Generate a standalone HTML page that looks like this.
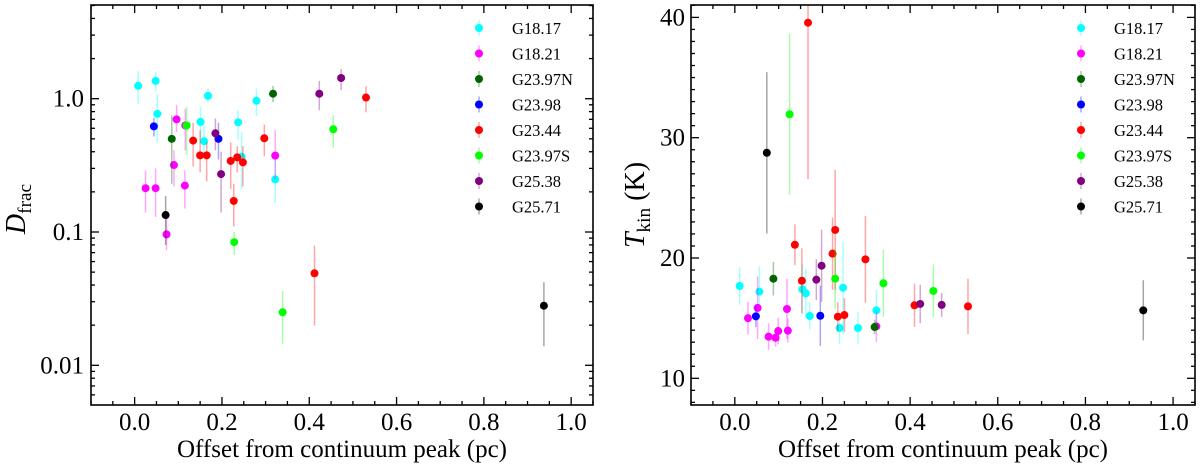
<!DOCTYPE html>
<html><head><meta charset="utf-8"><style>
html,body{margin:0;padding:0;background:#fff;}
svg{display:block;}
svg text{font-family:"Liberation Serif","DejaVu Serif","Times New Roman",serif;}
</style></head><body>
<svg id="chart" width="1200" height="469" viewBox="0 0 1200 469" xmlns="http://www.w3.org/2000/svg" font-family="Liberation Serif, DejaVu Serif, serif">
<g id="left"></g>
<g id="right"></g>
</svg>
<script>
const seriesNames = ["G18.17","G18.21","G23.97N","G23.98","G23.44","G23.97S","G25.38","G25.71"];
const seriesColors = ["#00ffff","#ff00ff","#006400","#0000ff","#ff0000","#00ff00","#800080","#000000"];
const xTicks = [0.0,0.2,0.4,0.6,0.8,1.0];
const xTickLabels = ["0.0","0.2","0.4","0.6","0.8","1.0"];
const dfTicks = [0.01,0.1,1];
const dfTickLabels = ["0.01","0.1","1.0"];
const tkTicks = [10,20,30,40];
const tkTickLabels = ["10","20","30","40"];

// Left panel: D_frac
const dfSeries = [0,0,0,0,0,0,0,0,0,0, 1,1,1,1,1,1,1,1, 2,2, 3,3, 4,4,4,4,4,4,4,4,4,4, 5,5,5,5, 6,6,6,6, 7,7];
const dfX = [0.008,0.048,0.052,0.168,0.151,0.159,0.279,0.237,0.245,0.322, 0.096,0.116,0.090,0.025,0.048,0.115,0.073,0.322, 0.085,0.317, 0.044,0.192, 0.134,0.150,0.165,0.220,0.235,0.248,0.227,0.297,0.530,0.412, 0.119,0.228,0.455,0.339, 0.423,0.473,0.185,0.198, 0.071,0.9375];
const dfY = [1.25,1.36,0.77,1.05,0.67,0.48,0.966,0.665,0.367,0.248, 0.70,0.63,0.318,0.213,0.213,0.223,0.096,0.374, 0.50,1.09, 0.62,0.50, 0.485,0.376,0.376,0.341,0.363,0.333,0.171,0.505,1.02,0.049, 0.63,0.084,0.59,0.025, 1.09,1.43,0.55,0.272, 0.134,0.028];
const dfLo = [0.91,1.14,0.47,0.93,0.50,0.38,0.74,0.49,0.21,0.165, 0.56,0.41,0.22,0.14,0.13,0.15,0.073,0.25, 0.23,0.94, 0.52,0.35, 0.31,0.28,0.24,0.21,0.28,0.22,0.11,0.37,0.79,0.0198, 0.38,0.067,0.43,0.0144, 0.82,1.16,0.41,0.14, 0.08,0.0139];
const dfHi = [1.61,1.59,1.08,1.2,0.87,0.63,1.19,0.82,0.56,0.38, 0.90,0.84,0.41,0.29,0.30,0.29,0.14,0.58, 0.75,1.25, 0.72,0.66, 0.66,0.58,0.47,0.47,0.44,0.44,0.23,0.64,1.24,0.079, 0.87,0.10,0.75,0.036, 1.36,1.67,0.71,0.40, 0.186,0.042];

// Right panel: T_kin
const tkSeries = [0,0,0,0,0,0,0,0,0, 1,1,1,1,1,1,1,1, 2,2, 3,3, 4,4,4,4,4,4,4,4,4,4, 5,5,5,5, 6,6,6,6, 7,7];
const tkX = [0.011,0.056,0.154,0.162,0.171,0.247,0.239,0.281,0.323, 0.030,0.052,0.077,0.093,0.099,0.119,0.121,0.323, 0.088,0.319, 0.048,0.195, 0.167,0.137,0.153,0.223,0.229,0.235,0.250,0.298,0.410,0.532, 0.125,0.229,0.339,0.453, 0.186,0.198,0.423,0.472, 0.073,0.932];
const tkY = [17.67,17.2,17.4,17.07,15.18,17.53,14.18,14.18,15.65, 15.0,15.85,13.46,13.37,13.93,15.76,13.96,14.32, 18.28,14.26, 15.15,15.2, 39.56,21.1,18.11,20.36,22.33,15.12,15.26,19.89,16.07,15.98, 31.95,18.28,17.9,17.26, 18.2,19.36,16.18,16.1, 28.75,15.65];
const tkErr = [1.55,2.1,2.1,2.0,1.1,3.9,1.3,1.3,1.7, 1.36,2.6,1.1,0.75,1.1,2.5,1.0,1.3, 1.4,0.6, 0.9,2.5, 13.0,1.7,2.7,3.0,5.0,1.2,1.4,3.6,1.8,2.3, 6.7,2.5,2.8,2.2, 1.7,3.0,1.6,1.0, 6.7,2.5];
</script>
<script>
const NS="http://www.w3.org/2000/svg";
const FF="Liberation Serif, DejaVu Serif, serif";
function mk(parent,tag,attrs){const e=document.createElementNS(NS,tag);for(const k in attrs)e.setAttribute(k,attrs[k]);if(tag==='text')e.setAttribute('font-family',FF);parent.appendChild(e);return e;}
// large text drawn at 16px and scaled, to keep the serif face
function bigText(parent,x,y,size,anchor,rot){
  const k=size/16;
  return mk(parent,'text',{x:0,y:0,'font-size':16,'text-anchor':anchor,transform:'translate('+x+','+y+')'+(rot?' rotate('+rot+')':'')+' scale('+k+')'});
}

function drawPanel(g,cfg){
  const L=cfg.L,R=cfg.R,T=5,B=405;
  const xs=v=>L+(v-(-0.1))/(1.05-(-0.1))*(R-L);
  const ys=cfg.ys;
  const cid='clip'+cfg.id;
  const cp=mk(g,'clipPath',{id:cid});mk(cp,'rect',{x:L,y:T,width:R-L,height:B-T});
  const dataG=mk(g,'g',{'clip-path':'url(#'+cid+')'});
  
  
  for(let s=0;s<8;s++){
    for(let i=0;i<cfg.ser.length;i++){ if(cfg.ser[i]!==s)continue;
      const x=xs(cfg.X[i]);
      const l=mk(dataG,'line',{x1:x,x2:x,y1:ys(cfg.lo(i)),y2:ys(cfg.hi(i)),stroke:seriesColors[s],'stroke-width':1.5,'stroke-opacity':0.35});
      
      
    }
    for(let i=0;i<cfg.ser.length;i++){ if(cfg.ser[i]!==s)continue;
      const c=mk(dataG,'circle',{cx:xs(cfg.X[i]),cy:ys(cfg.Y[i]),r:4,fill:seriesColors[s]});
      
      
    }
  }
  const fr=mk(g,'rect',{x:L,y:T,width:R-L,height:B-T,fill:'none',stroke:'#000','stroke-width':1.6});
  
  
  for(let k=-2;k<=21;k++){const v=k*0.05; if(v<-0.1-1e-9||v>1.05+1e-9)continue;
    const x=xs(v);const major=(k%4===0);const len=major?8:4;
    mk(g,'line',{x1:x,x2:x,y1:B,y2:B-len,stroke:'#000','stroke-width':1.3});
    mk(g,'line',{x1:x,x2:x,y1:T,y2:T+len,stroke:'#000','stroke-width':1.3});
  }
  xTicks.forEach((v,i)=>{const t=bigText(g,xs(v),430,25,'middle');t.textContent=xTickLabels[i];
    
    });
  const xl=bigText(g,(L+R)/2,457,25,'middle');xl.textContent='Offset from continuum peak (pc)';
  
  
  cfg.yticks(g,L,R,T,B);
  for(let s=0;s<8;s++){const y=28+s*25.5;
    const lx=R-114;
    mk(g,'line',{x1:lx,x2:lx,y1:y-8,y2:y+8,stroke:seriesColors[s],'stroke-width':1.5,'stroke-opacity':0.35});
    const c=mk(g,'circle',{cx:lx,cy:y,r:4,fill:seriesColors[s]});
    
    
    const t=mk(g,'text',{x:R-81,y:y+6,'font-size':16.5});t.textContent=seriesNames[s];
    
    
  }
}
(function(){
  const g=document.getElementById('left');
  const ys=v=>98.7-133.3*Math.log10(v);
  drawPanel(g,{id:'df',L:91,R:593,ys:ys,ser:dfSeries,X:dfX,Y:dfY,lo:i=>dfLo[i],hi:i=>dfHi[i],
    yticks:(g,L,R,T,B)=>{
      for(let d=-3;d<=0;d++)for(let m=1;m<=9;m++){const v=m*Math.pow(10,d);const y=ys(v);if(y<T||y>B)continue;
        const len=m===1?8:4;
        mk(g,'line',{x1:L,x2:L+len,y1:y,y2:y,stroke:'#000','stroke-width':1.3});
        mk(g,'line',{x1:R,x2:R-len,y1:y,y2:y,stroke:'#000','stroke-width':1.3});}
      dfTicks.forEach((v,i)=>{const t=bigText(g,84,ys(v)+8,25,'end');t.textContent=dfTickLabels[i];
        
        });
      const yl=bigText(g,25,209,28,'middle',-90);
      yl.innerHTML='<tspan font-style="italic">D</tspan><tspan font-size="11" dy="3.5">frac</tspan>';
      
      
    }});
})();
(function(){
  const g=document.getElementById('right');
  const ys=v=>378.3-12.03*(v-10);
  drawPanel(g,{id:'tk',L:691,R:1195,ys:ys,ser:tkSeries,X:tkX,Y:tkY,lo:i=>tkY[i]-tkErr[i],hi:i=>tkY[i]+tkErr[i],
    yticks:(g,L,R,T,B)=>{
      for(let v=8;v<=41;v++){const y=ys(v);if(y<T||y>B)continue;const len=(v%10===0)?8:4;
        mk(g,'line',{x1:L,x2:L+len,y1:y,y2:y,stroke:'#000','stroke-width':1.3});
        mk(g,'line',{x1:R,x2:R-len,y1:y,y2:y,stroke:'#000','stroke-width':1.3});}
      tkTicks.forEach((v,i)=>{const t=bigText(g,685,ys(v)+8,25,'end');t.textContent=tkTickLabels[i];
        
        });
      const yl=bigText(g,644,205,28,'middle',-90);
      yl.innerHTML='<tspan font-style="italic">T</tspan><tspan font-size="11" dy="3.5">kin</tspan><tspan dy="-3.5"> (K)</tspan>';
      
      
    }});
})();
</script>
</body></html>
